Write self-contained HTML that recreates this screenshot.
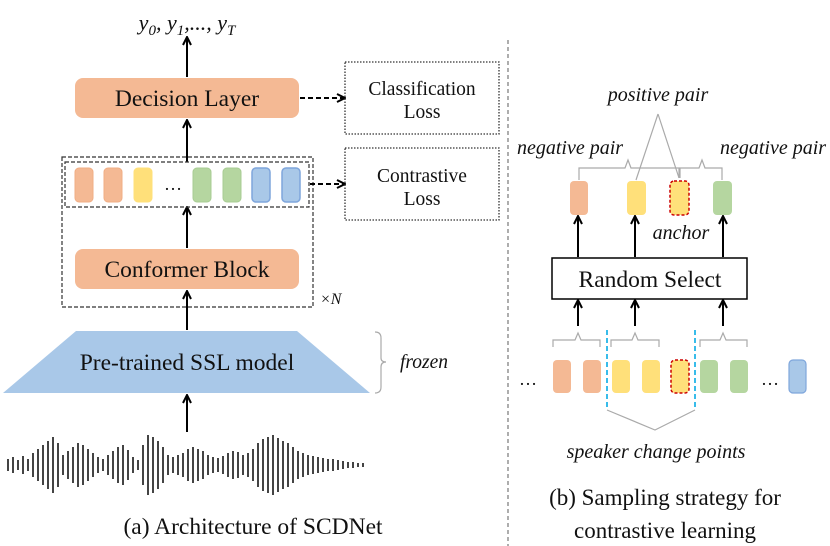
<!DOCTYPE html>
<html><head><meta charset="utf-8"><style>
html,body{margin:0;padding:0;background:#fff;}
svg{display:block;}
text{font-family:"Liberation Serif",serif;fill:#111;}
.it{font-style:italic;}
</style></head><body>
<svg width="830" height="546" viewBox="0 0 830 546" xmlns="http://www.w3.org/2000/svg">
<defs>
<marker id="ah" markerWidth="10" markerHeight="10" refX="8" refY="5" orient="auto" markerUnits="userSpaceOnUse">
<path d="M1,1 L9,5 L1,9" fill="none" stroke="#000" stroke-width="2"/>
</marker>
</defs>
<line x1="508" y1="40" x2="508" y2="546" stroke="#777" stroke-width="1.2" stroke-dasharray="4,3"/>

<text x="187" y="30" font-size="22" text-anchor="middle" class="it">y<tspan font-size="15" dy="5">0</tspan><tspan dy="-5">, y</tspan><tspan font-size="15" dy="5">1</tspan><tspan dy="-5">,..., y</tspan><tspan font-size="15" dy="5">T</tspan></text>
<g stroke="#000" stroke-width="2" marker-end="url(#ah)">
<line x1="187" y1="77" x2="187" y2="38"/>
<line x1="187" y1="162" x2="187" y2="121"/>
<line x1="187" y1="248" x2="187" y2="208"/>
<line x1="187" y1="330" x2="187" y2="292"/>
<line x1="187" y1="432" x2="187" y2="396"/>
</g>
<rect x="75" y="78" width="224" height="40" rx="8" fill="#F4B994"/>
<text x="187" y="106" font-size="23.5" text-anchor="middle">Decision Layer</text>
<rect x="75" y="249" width="224" height="40" rx="8" fill="#F4B994"/>
<text x="187" y="277" font-size="23.5" text-anchor="middle">Conformer Block</text>
<rect x="62" y="157" width="251" height="150" fill="none" stroke="#333" stroke-width="1.2" stroke-dasharray="4,2"/>
<rect x="65" y="162" width="244" height="45" fill="none" stroke="#333" stroke-width="1.2" stroke-dasharray="4,2"/>
<g stroke-width="1">
<rect x="75" y="168" width="18" height="34" rx="4" fill="#F4B994" stroke="#F0AE85"/>
<rect x="104" y="168" width="18" height="34" rx="4" fill="#F4B994" stroke="#F0AE85"/>
<rect x="134" y="168" width="18" height="34" rx="4" fill="#FFE07A" stroke="#FFE07A"/>
<rect x="193" y="168" width="18" height="34" rx="4" fill="#B5D6A0" stroke="#A8CC93"/>
<rect x="223" y="168" width="18" height="34" rx="4" fill="#B5D6A0" stroke="#A8CC93"/>
<rect x="252" y="168" width="18" height="34" rx="4" fill="#A9C8E8" stroke="#7FA6DC" stroke-width="1.5"/>
<rect x="282" y="168" width="18" height="34" rx="4" fill="#A9C8E8" stroke="#7FA6DC" stroke-width="1.5"/>
</g>
<text x="173" y="190" font-size="18" text-anchor="middle">…</text>
<text x="320" y="304" font-size="16" class="it">×N</text>
<g stroke="#000" stroke-width="2" stroke-dasharray="5,3" marker-end="url(#ah)">
<line x1="300" y1="98" x2="344" y2="98"/>
<line x1="310" y1="184" x2="344" y2="184"/>
</g>
<rect x="345" y="62" width="154" height="72" fill="none" stroke="#333" stroke-width="1.3" stroke-dasharray="1.5,1.5"/>
<text x="422" y="95" font-size="19.5" text-anchor="middle">Classification</text>
<text x="422" y="118" font-size="19.5" text-anchor="middle">Loss</text>
<rect x="345" y="148" width="154" height="72" fill="none" stroke="#333" stroke-width="1.3" stroke-dasharray="1.5,1.5"/>
<text x="422" y="182" font-size="19.5" text-anchor="middle">Contrastive</text>
<text x="422" y="205" font-size="19.5" text-anchor="middle">Loss</text>

<polygon points="76,331 297,331 370,393 3,393" fill="#A9C8E8"/>
<text x="187" y="370" font-size="23.5" text-anchor="middle">Pre-trained SSL model</text>
<path d="M375,332 Q381,332 381,338 L381,358 Q381,362 386,362 Q381,362 381,367 L381,387 Q381,393 375,393" fill="none" stroke="#aaa" stroke-width="1.2"/>
<text x="400" y="368" font-size="19.5" class="it">frozen</text>

<path stroke="#444" stroke-width="2" fill="none" d="M8,459V471M13,457V473M18,460V470M23,456V474M28,459V471M33,453V477M38,449V481M43,445V485M48,441V489M53,437V493M58,443V487M63,455V475M68,451V479M73,447V483M78,443V487M83,445V485M88,449V481M93,453V477M98,457V473M103,459V471M108,455V475M113,451V479M118,447V483M123,445V485M128,450V480M133,457V473M138,460V470M143,445V485M148,435V495M153,437V493M158,441V489M163,447V483M168,455V475M173,457V473M178,455V475M183,453V477M188,449V481M193,447V483M198,449V481M203,451V479M208,455V475M213,457V473M218,458V472M223,456V474M228,453V477M233,451V479M238,452V478M243,455V475M248,453V477M253,449V481M258,443V487M263,439V491M268,437V493M273,435V495M278,438V492M283,441V489M288,443V487M293,447V483M298,451V479M303,453V477M308,455V475M313,456V474M318,457V473M323,458V472M328,459V471M333,459V471M338,460V470M343,461V469M348,462V468M353,462V468M358,463V467M363,463V467"/>

<text x="253" y="534" font-size="23.5" text-anchor="middle">(a) Architecture of SCDNet</text>

<text x="658" y="101" font-size="20" text-anchor="middle" class="it">positive pair</text>
<text x="570" y="154" font-size="20" text-anchor="middle" class="it">negative pair</text>
<text x="773" y="154" font-size="20" text-anchor="middle" class="it">negative pair</text>
<g fill="none" stroke="#aaa" stroke-width="1.2">
<path d="M579,180 V168 H625 L628,160 L631,168 H679 V178"/>
<path d="M680,178 V168 H699 L702,160 L705,168 H722 V180"/>
<path d="M658,114 L636,180 M658,114 L679,178"/>
<path d="M553,347 V340 H575 L578,333 L581,340 H600 V347"/>
<path d="M611,347 V340 H632 L635,333 L638,340 H659 V347"/>
<path d="M700,347 V340 H720 L723,333 L726,340 H747 V347"/>
<path d="M607,410 L655,430 L695,410"/>
</g>
<rect x="570" y="181" width="18" height="34" rx="4" fill="#F4B994"/>
<rect x="627" y="181" width="19" height="34" rx="4" fill="#FFE07A"/>
<rect x="670" y="181" width="19" height="34" rx="4" fill="#FFE07A" stroke="#C00" stroke-width="1.5" stroke-dasharray="3,2"/>
<rect x="713" y="181" width="19" height="34" rx="4" fill="#B5D6A0"/>
<text x="681" y="239" font-size="20" text-anchor="middle" class="it">anchor</text>
<g stroke="#000" stroke-width="2" marker-end="url(#ah)">
<line x1="578" y1="257" x2="578" y2="217"/>
<line x1="635" y1="257" x2="635" y2="217"/>
<line x1="723" y1="257" x2="723" y2="217"/>
<line x1="578" y1="326" x2="578" y2="301"/>
<line x1="635" y1="326" x2="635" y2="301"/>
<line x1="723" y1="326" x2="723" y2="301"/>
</g>
<rect x="552" y="258" width="195" height="41" fill="#fff" stroke="#000" stroke-width="1.5"/>
<text x="650" y="287" font-size="23.5" text-anchor="middle">Random Select</text>
<text x="528" y="385" font-size="18" text-anchor="middle">…</text>
<text x="770" y="385" font-size="18" text-anchor="middle">…</text>
<rect x="553" y="360" width="18" height="33" rx="4" fill="#F4B994"/>
<rect x="583" y="360" width="18" height="33" rx="4" fill="#F4B994"/>
<rect x="612" y="360" width="18" height="33" rx="4" fill="#FFE07A"/>
<rect x="642" y="360" width="18" height="33" rx="4" fill="#FFE07A"/>
<rect x="671" y="360" width="18" height="33" rx="4" fill="#FFE07A" stroke="#C00" stroke-width="1.5" stroke-dasharray="3,2"/>
<rect x="700" y="360" width="18" height="33" rx="4" fill="#B5D6A0"/>
<rect x="730" y="360" width="18" height="33" rx="4" fill="#B5D6A0"/>
<rect x="789" y="360" width="17" height="33" rx="4" fill="#A9C8E8" stroke="#7FA6DC" stroke-width="1.2"/>
<g stroke="#22B5E8" stroke-width="1.8" stroke-dasharray="5,3">
<line x1="607" y1="330" x2="607" y2="410"/>
<line x1="695" y1="330" x2="695" y2="410"/>
</g>
<text x="656" y="458" font-size="20" text-anchor="middle" class="it">speaker change points</text>
<text x="665" y="505" font-size="23" text-anchor="middle">(b) Sampling strategy for</text>
<text x="665" y="538" font-size="23" text-anchor="middle">contrastive learning</text>
</svg>
</body></html>
